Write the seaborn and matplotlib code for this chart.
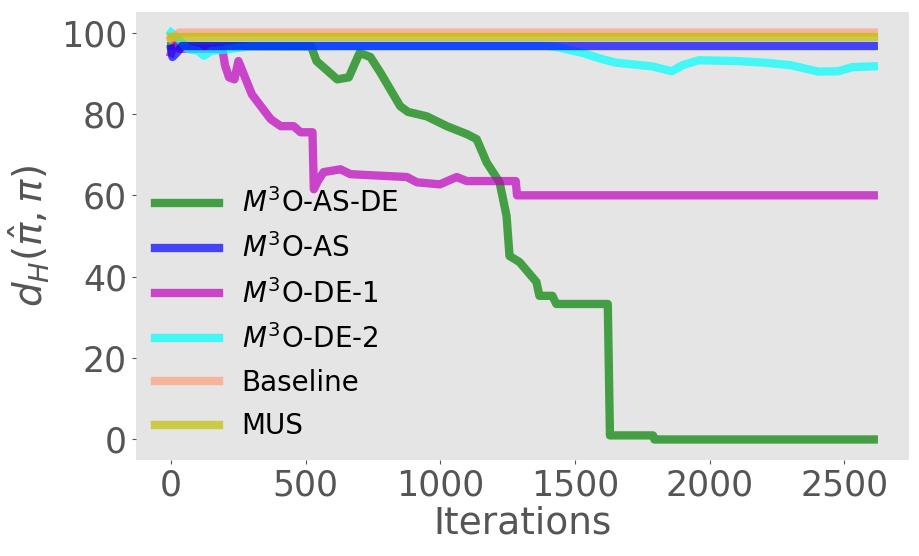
import numpy as np
import pandas as pd
import seaborn as sns
import matplotlib.pyplot as plt

# Valeurs (itération, d_H)
green_x = [0, 520, 540, 617, 660, 700, 740, 777, 851, 880, 950, 1024, 1100, 1135,
           1172, 1220, 1246, 1257, 1294, 1357, 1368, 1416, 1431, 1622, 1630, 1790, 1795, 2610]
green_y = [96.7, 96.6, 93, 88.5, 89, 95, 94, 90.2, 81.9, 80.5, 79.4, 77, 75, 73.8,
           68.1, 63.2, 54.9, 45.1, 43.6, 38.7, 35.3, 35.3, 33.3, 33.3, 1, 1, 0, 0]

blue_x = [0, 5, 20, 40, 2610]
blue_y = [96, 94, 95, 96.7, 96.7]

magenta_x = [0, 10, 30, 190, 200, 215, 235, 250, 300, 370, 407, 455, 481, 525,
             530, 545, 566, 629, 666, 876, 913, 998, 1061, 1098, 1280, 1285, 2610]
magenta_y = [95, 97, 96, 96, 92, 89, 88.5, 93, 84.8, 78.7, 77, 77, 75.5, 75.5,
             61.5, 63.5, 65.7, 66.4, 65.2, 64.5, 63.2, 62.7, 64.5, 63.5, 63.5, 60, 60]

cyan_x = [0, 20, 60, 100, 122, 150, 200, 300, 1400, 1442, 1527, 1600, 1653, 1786,
          1860, 1900, 1960, 2100, 2207, 2300, 2404, 2478, 2530, 2610]
cyan_y = [100, 99, 96, 95.5, 94.3, 95.5, 95.8, 96.7, 96.7, 96.3, 95, 93.5, 92.6, 91.7,
          90.5, 92, 93.2, 93, 92.6, 92, 90.4, 90.5, 91.5, 91.7]

baseline_x = [0, 30, 2610]
baseline_y = [98.5, 100, 100]

mus_x = [0, 2610]
mus_y = [99, 99]

labels = [r'$M^3$O-AS-DE', r'$M^3$O-AS', r'$M^3$O-DE-1', r'$M^3$O-DE-2', 'Baseline', 'MUS']
colors = ['green', 'blue', 'm', 'cyan', 'lightsalmon', 'y']
zorders = [2, 4, 2, 3, 5, 6]

series = [(green_x, green_y), (blue_x, blue_y), (magenta_x, magenta_y),
          (cyan_x, cyan_y), (baseline_x, baseline_y), (mus_x, mus_y)]

sns.set_style({'axes.facecolor': '#E5E5E5', 'axes.grid': False,
               'axes.edgecolor': '#E5E5E5', 'xtick.bottom': True, 'ytick.left': True,
               'xtick.color': '#555555', 'ytick.color': '#555555'})
plt.rcParams['font.family'] = ['DejaVu Sans']

fig, ax = plt.subplots(figsize=(9.19, 5.56), dpi=100)
fig.subplots_adjust(left=0.148, right=0.989, top=0.978, bottom=0.173)

for (xs, ys), lab, col, z in zip(series, labels, colors, zorders):
    df = pd.DataFrame({'it': xs, 'd': ys})
    sns.lineplot(data=df, x='it', y='d', ax=ax, color=col, alpha=0.7,
                 linewidth=6, estimator=None, sort=False, label=lab, zorder=z)

ax.set_xlabel('Iterations', fontsize=27, color='#555555', labelpad=2)
ax.set_ylabel(r'$d_H(\hat{\pi}, \pi)$', fontsize=28, color='#555555', labelpad=6)
ax.tick_params(labelsize=25, length=3, color='#555555')
ax.set_xticks([0, 500, 1000, 1500, 2000, 2500])
ax.set_yticks([0, 20, 40, 60, 80, 100])
for s in ax.spines.values():
    s.set_visible(False)

ax.legend(loc='lower left', fontsize=20, frameon=False, handlelength=2.3,
          labelspacing=0.55, borderaxespad=0.3)

fig.savefig('out.png', dpi=100)
